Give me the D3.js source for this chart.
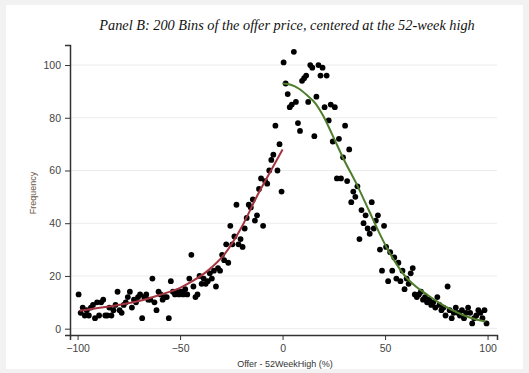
<!DOCTYPE html>
<html>
<head>
<meta charset="utf-8">
<script src="https://cdn.jsdelivr.net/npm/d3@7"></script>
<style>
  html, body { margin: 0; padding: 0; background: #f2f2f2; }
  svg { display: block; }
</style>
</head>
<body>
<div id="chart"></div>
<script>
// bin centres -99.5 ... 99.5 and their counts
const binCentres = d3.range(200).map(i => -99.5 + i);
const freqLeftTail = [13, 6, 8, 5, 7, 5, 8, 9, 4, 10, 5, 10, 11, 5, 5, 8, 5, 7, 9, 14,
    7, 6, 9, 10, 12, 14, 8, 11, 10, 12, 13, 4, 12, 13, 11, 11, 19, 10, 7, 14,
    13, 11, 12, 12, 4, 18, 14, 13, 14, 13];
const freqLeftNear = [14, 13, 15, 13, 19, 28, 16, 12, 13, 20, 17, 19, 17, 18, 21, 19, 22, 16, 23, 22,
    28, 26, 32, 25, 39, 32, 35, 47, 32, 34, 31, 38, 42, 47, 46, 49, 41, 43, 53, 57,
    39, 56, 55, 60, 64, 66, 77, 60, 70, 52];
const freqRightNear = [101, 93, 89, 84, 85, 105, 86, 78, 75, 94, 95, 96, 86, 100, 99, 73, 88, 100, 96, 99,
    84, 96, 79, 85, 71, 84, 57, 72, 57, 65, 77, 56, 68, 48, 52, 50, 54, 34, 45, 40,
    43, 38, 36, 48, 38, 41, 43, 30, 22, 39];
const freqRightTail = [31, 18, 29, 22, 27, 19, 25, 18, 22, 15, 19, 17, 21, 23, 13, 12, 13, 14, 11, 12,
    10, 11, 9, 10, 8, 12, 9, 7, 8, 5, 16, 7, 4, 6, 8, 6, 5, 7, 4, 6,
    8, 6, 2, 4, 5, 7, 6, 4, 7, 2];
const frequency = freqLeftTail.concat(freqLeftNear, freqRightNear, freqRightTail);

// fitted curves below and above the 52-week high
const fitBelowX = [-99, -90, -80, -70, -60, -50, -44, -36, -28, -20, -12, -6, 0];
const fitBelowY = [6.8, 7.8, 9, 10.5, 12.8, 15.5, 18, 22.3, 28.6, 38.5, 51, 59.5, 68];
const fitAboveX = [0, 4, 8, 12, 16, 20, 24, 30, 36, 42, 48, 52, 56, 60, 65, 70, 76, 82, 88, 94, 99];
const fitAboveY = [93, 92.5, 91, 88.5, 85.5, 80.5, 74, 64, 55, 45, 35, 29, 24, 19.7, 16, 13.2, 10, 7.3, 5.2, 3.6, 2.7];

const xTicks = [-100, -50, 0, 50, 100];
const yTicks = [0, 20, 40, 60, 80, 100];

const W = 529, H = 373;
const svg = d3.select("#chart").append("svg")
    .attr("width", W)
    .attr("height", H);

svg.append("rect")
    .attr("x", 6).attr("y", 5)
    .attr("width", W - 12).attr("height", H - 9)
    .attr("fill", "#fff");

const x = d3.scaleLinear().domain([-103.7, 104.6]).range([70, 497]);
const y = d3.scaleLinear().domain([-2.4, 107.6]).range([335, 45]);

// grid
svg.append("g")
    .selectAll("line")
    .data(yTicks)
    .enter().append("line")
    .attr("x1", 71).attr("x2", 497)
    .attr("y1", d => y(d)).attr("y2", d => y(d))
    .attr("stroke", "#ececec")
    .attr("stroke-width", 1);

// axes
const xAxis = svg.append("g")
    .attr("transform", "translate(0,335)")
    .call(d3.axisBottom(x).tickValues(xTicks).tickSize(5).tickPadding(5));
const yAxis = svg.append("g")
    .attr("transform", "translate(70,0)")
    .call(d3.axisLeft(y).tickValues(yTicks).tickSize(5).tickPadding(4));

[xAxis, yAxis].forEach(a => {
    a.select(".domain").attr("stroke", "#333").attr("stroke-width", 1.5);
    a.selectAll(".tick line").attr("stroke", "#333");
    a.selectAll("text")
        .attr("fill", "#444")
        .attr("font-family", "Liberation Sans, Arial, sans-serif")
        .attr("font-size", "10.5px");
});

// points
svg.append("g")
    .selectAll("circle")
    .data(binCentres)
    .enter().append("circle")
    .attr("cx", (d) => x(d))
    .attr("cy", (d, i) => y(frequency[i]))
    .attr("r", 2.9)
    .attr("fill", "#000");

// fitted lines
const line = d3.line().curve(d3.curveMonotoneX)
    .x(d => x(d[0]))
    .y(d => y(d[1]));

svg.append("path")
    .datum(fitBelowX.map((v, i) => [v, fitBelowY[i]]))
    .attr("d", line)
    .attr("fill", "none")
    .attr("stroke", "#a3343f")
    .attr("stroke-width", 2);

svg.append("path")
    .datum(fitAboveX.map((v, i) => [v, fitAboveY[i]]))
    .attr("d", line)
    .attr("fill", "none")
    .attr("stroke", "#4e7d2b")
    .attr("stroke-width", 2);

// labels
svg.append("text")
    .attr("x", 287)
    .attr("y", 30)
    .attr("text-anchor", "middle")
    .attr("font-family", "Liberation Serif, Times New Roman, serif")
    .attr("font-style", "italic")
    .attr("font-size", "14.3px")
    .attr("fill", "#111")
    .text("Panel B: 200 Bins of the offer price, centered at the 52-week high");

svg.append("text")
    .attr("x", 285)
    .attr("y", 367)
    .attr("text-anchor", "middle")
    .attr("font-family", "Liberation Sans, Arial, sans-serif")
    .attr("font-size", "9px")
    .attr("fill", "#333")
    .text("Offer - 52WeekHigh (%)");

svg.append("text")
    .attr("transform", "translate(36,193) rotate(-90)")
    .attr("text-anchor", "middle")
    .attr("font-family", "Liberation Sans, Arial, sans-serif")
    .attr("font-size", "9px")
    .attr("fill", "#6b5646")
    .text("Frequency");
</script>
</body>
</html>
